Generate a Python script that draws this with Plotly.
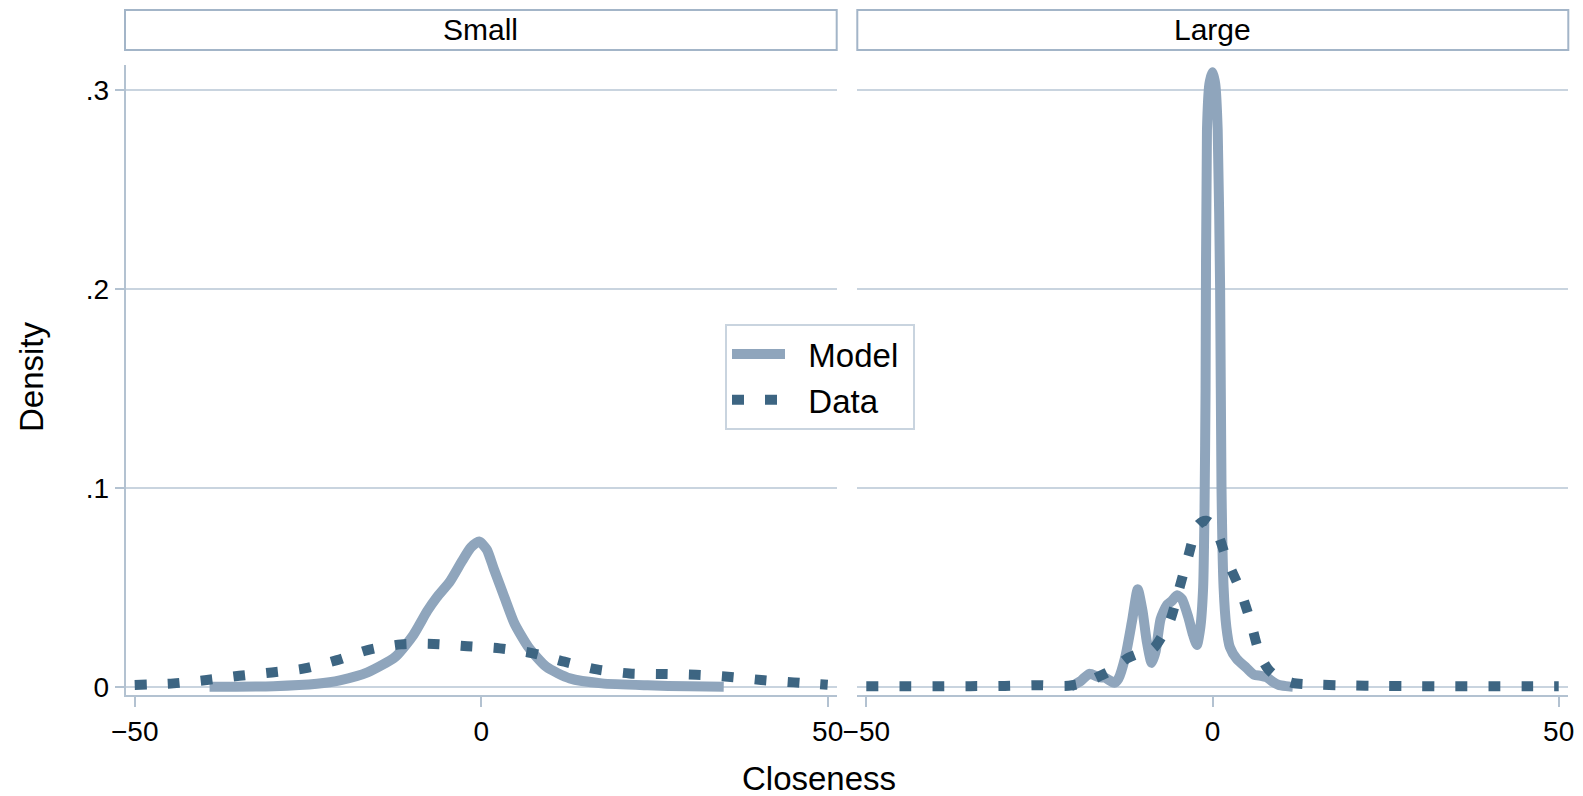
import plotly.graph_objects as go

# ---------------- data ----------------
panels = ["Small", "Large"]

small_model_x = [-39.2, -30, -23.7, -20.4, -16.4, -12.4, -9.8, -7.8, -6.4, -4.5, -2.8, -1.5,
                 -0.3, 0.8, 1.8, 3.5, 4.8, 6.8, 9.4, 12.8, 17.4, 24, 30, 35]
small_model_y = [0.0, 0.0003, 0.0015, 0.0032, 0.0072, 0.015, 0.026, 0.038, 0.045, 0.053, 0.063, 0.070,
                 0.073, 0.069, 0.0595, 0.0436, 0.0318, 0.020, 0.010, 0.0042, 0.0017, 0.0007, 0.0002, 0.0]

small_data_x = [-50, -44.4, -39.6, -34.9, -30.2, -25.5, -20.8, -16.4, -11.6, -6.85, -2, 2.7,
                7.5, 12, 16.7, 21.4, 26.2, 31, 35.6, 40.4, 45.1, 50]
small_data_y = [0.0009, 0.0017, 0.0034, 0.0055, 0.0072, 0.0092, 0.0134, 0.0184, 0.0213, 0.0215, 0.0204, 0.0193,
                0.0168, 0.0126, 0.0087, 0.0067, 0.0064, 0.006, 0.005, 0.0034, 0.0022, 0.001]

large_model_x = [-20.5, -19, -17.8, -16.4, -15.5, -14.2, -13.6, -12.6, -11.6, -10.8, -10.1, -9.5,
                 -8.8, -8.2, -7.5, -6.6, -5.9, -5.1, -4.4, -3.5, -2.8, -2.25, -1.75, -1.35,
                 -1.15, -1.0, -0.8, -0.45, 0, 0.4, 0.75, 1.1, 1.3, 1.6, 2.0, 2.5,
                 3.5, 4.9, 6.0, 7.0, 7.8, 8.7, 9.5, 10.6, 11.6]
large_model_y = [0.0, 0.003, 0.0065, 0.0048, 0.0045, 0.002, 0.004, 0.015, 0.0335, 0.049, 0.038, 0.023,
                 0.012, 0.018, 0.034, 0.041, 0.043, 0.046, 0.044, 0.035, 0.026, 0.021, 0.03, 0.05,
                 0.09, 0.15, 0.28, 0.303, 0.309, 0.303, 0.28, 0.2, 0.1, 0.05, 0.03, 0.02,
                 0.014, 0.0095, 0.006, 0.0055, 0.0048, 0.0025, 0.001, 0.0003, 0.0]

large_data_x = [-50, -45, -40, -35, -30, -25.3, -20.8, -18.5, -16.2, -14.2, -12.35, -10.4,
                -8.5, -7.2, -6.1, -4.8, -3.55, -2.1, -0.9, 0.4, 2.1, 4.0, 5.5, 6.8,
                8.0, 9.3, 11.5, 14.2, 19.1, 25, 30, 35, 40, 45, 50]
large_data_y = [0.0002, 0.0002, 0.0002, 0.0003, 0.0004, 0.0008, 0.0005, 0.002, 0.0055, 0.009, 0.0142, 0.017,
                0.0195, 0.026, 0.0335, 0.0494, 0.065, 0.0812, 0.0835, 0.0795, 0.0637, 0.0486, 0.0327, 0.0167,
                0.009, 0.005, 0.002, 0.0012, 0.0007, 0.0004, 0.0003, 0.0002, 0.0002, 0.0002, 0.0002]

x_ticks = [-50, 0, 50]
x_ticktext = ["\u221250", "0", "50"]
y_ticks = [0, 0.1, 0.2, 0.3]
y_ticktext = ["0", ".1", ".2", ".3"]

# ---------------- style ----------------
W, H = 1583, 796
MODEL_C = "#8FA5BC"
DATA_C = "#3D6582"
GRID_C = "#C9D4DF"
AXIS_C = "#B3C2D1"
STRIP_C = "#A3B5C8"
FONT = "Liberation Sans, Arial, Helvetica, sans-serif"

fig = go.Figure()

series = [
    (small_model_x, small_model_y, small_data_x, small_data_y, "x", "y", True),
    (large_model_x, large_model_y, large_data_x, large_data_y, "x2", "y2", False),
]
for mx, my, dx, dy, xa, ya, show in series:
    fig.add_trace(go.Scatter(x=mx, y=my, mode="lines", name="\u00a0\u00a0Model\u00a0", xaxis=xa, yaxis=ya,
                             line=dict(color=MODEL_C, width=10, shape="spline", smoothing=0.6),
                             showlegend=show, legendgroup="m"))
for mx, my, dx, dy, xa, ya, show in series:
    fig.add_trace(go.Scatter(x=dx, y=dy, mode="lines", name="\u00a0\u00a0Data", xaxis=xa, yaxis=ya,
                             line=dict(color=DATA_C, width=10, dash="12px,21px", shape="spline", smoothing=0.8),
                             showlegend=show, legendgroup="d"))

x_dom1 = [125.7 / W, 836.7 / W]
x_dom2 = [857.3 / W, 1567.7 / W]
y_dom = [1 - 695.3 / H, 1 - 65 / H]

xcommon = dict(range=[-51.3, 51.3], tickvals=x_ticks, ticktext=x_ticktext, ticks="outside",
               ticklen=10, tickwidth=2, tickcolor=AXIS_C, showline=True, linecolor=AXIS_C,
               linewidth=2, showgrid=False, zeroline=False, automargin=False,
               tickfont=dict(size=28, color="black", family=FONT))
fig.update_layout(
    xaxis=dict(domain=x_dom1, anchor="y", **xcommon),
    xaxis2=dict(domain=x_dom2, anchor="y2", **xcommon),
    yaxis=dict(domain=y_dom, anchor="x", range=[-0.0043, 0.3126], tickvals=y_ticks, ticktext=y_ticktext,
               ticks="outside", ticklen=9, tickwidth=2, tickcolor=AXIS_C, showline=True,
               linecolor=AXIS_C, linewidth=2, showgrid=True, gridcolor=GRID_C, gridwidth=2,
               zeroline=False, automargin=False, tickfont=dict(size=28, color="black", family=FONT)),
    yaxis2=dict(domain=y_dom, anchor="x2", matches="y", range=[-0.0043, 0.3126], tickvals=y_ticks,
                showticklabels=False, ticks="", showline=False, showgrid=True, gridcolor=GRID_C,
                gridwidth=2, zeroline=False, automargin=False),
)

shapes = []
annotations = []
for (x0, x1), label in zip([(125.0, 836.7), (857.3, 1568.3)], panels):
    shapes.append(dict(type="rect", xref="paper", yref="paper", x0=x0 / W, x1=x1 / W,
                       y0=1 - 50 / H, y1=1 - 10 / H, line=dict(color=STRIP_C, width=2),
                       fillcolor="white", layer="below"))
    annotations.append(dict(text=label, xref="paper", yref="paper", x=(x0 + x1) / 2 / W, y=1 - 30 / H,
                            showarrow=False, xanchor="center", yanchor="middle",
                            font=dict(size=30, color="black", family=FONT)))

annotations.append(dict(text="Closeness", xref="paper", yref="paper", x=819 / W, y=1 - 778 / H,
                        showarrow=False, xanchor="center", yanchor="middle",
                        font=dict(size=33, color="black", family=FONT)))
annotations.append(dict(text="Density", xref="paper", yref="paper", x=31 / W, y=1 - 377 / H,
                        showarrow=False, xanchor="center", yanchor="middle", textangle=-90,
                        font=dict(size=33, color="black", family=FONT)))

fig.update_layout(
    width=W, height=H, margin=dict(l=0, r=0, t=0, b=0, autoexpand=False),
    paper_bgcolor="white", plot_bgcolor="white",
    shapes=shapes, annotations=annotations,
    legend=dict(x=725 / W, y=1 - 324 / H, xanchor="left", yanchor="top",
                bordercolor=GRID_C, borderwidth=2, bgcolor="white",
                font=dict(size=33, color="black", family=FONT), itemwidth=53,
                tracegroupgap=0),
    showlegend=True,
)

fig.write_html("out.html", config={"displayModeBar": False},
               post_script="document.body.style.margin='0px';document.body.style.overflow='hidden';")
